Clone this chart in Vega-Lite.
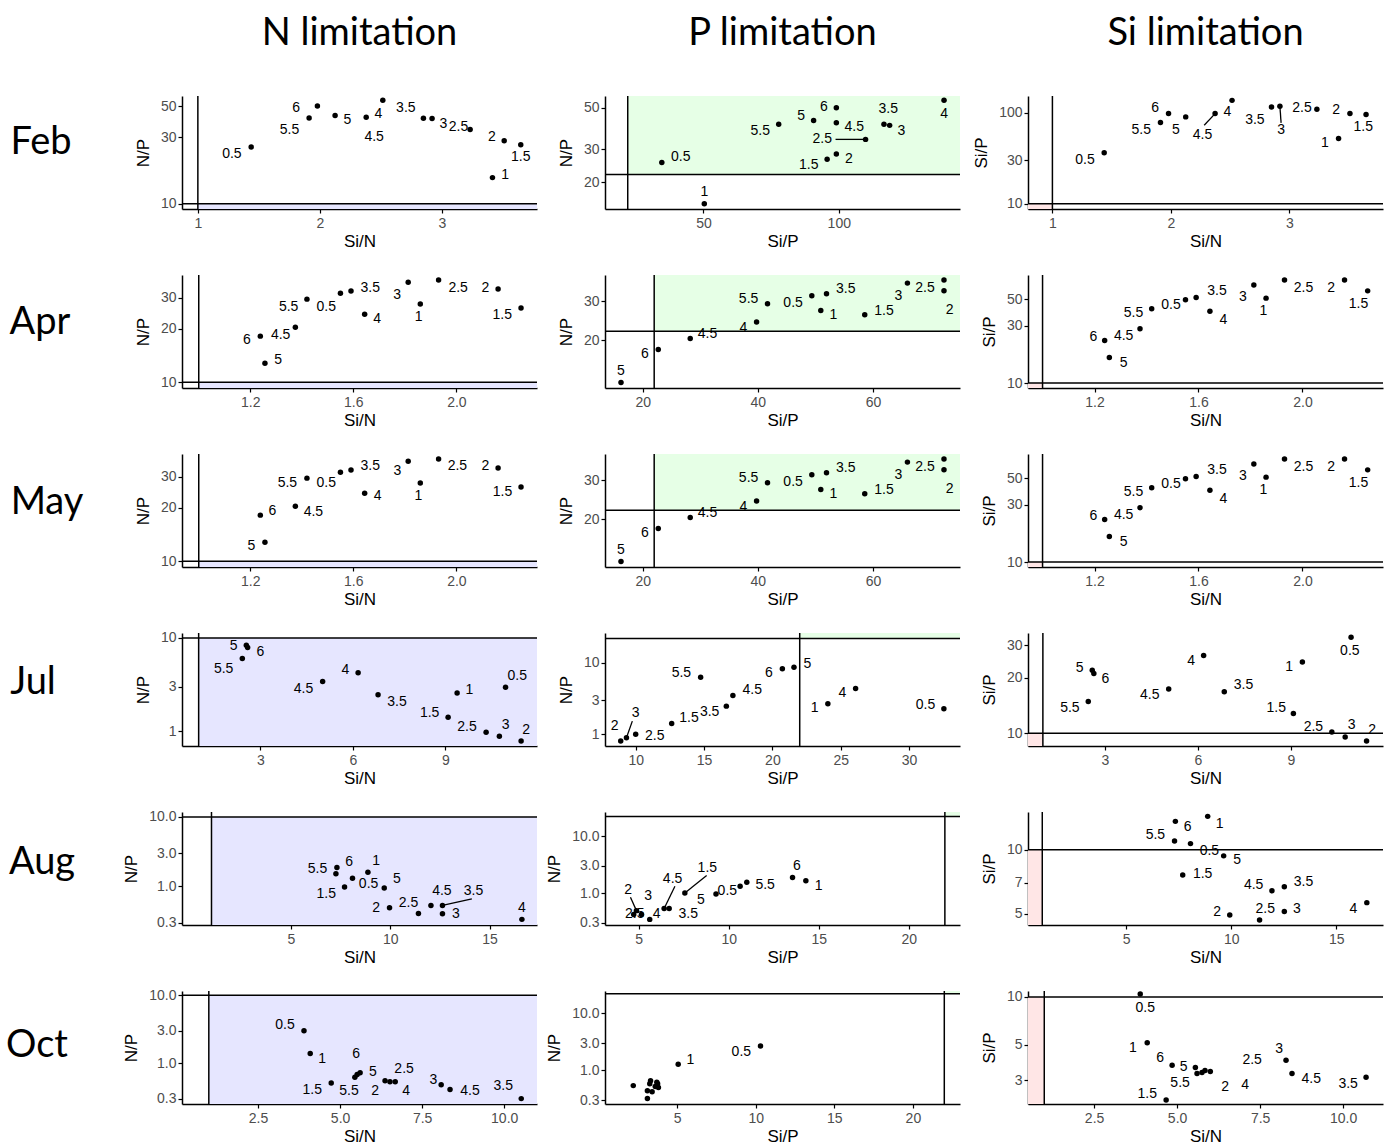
{
"$schema": "https://vega.github.io/schema/vega-lite/v6.json",
"background": "white",
"padding": {"left": 0, "top": 15, "right": 0, "bottom": 0},
"bounds": "flush",
"align": "none",
"columns": 4,
"spacing": {"row": 66, "column": 68},
"datasets": {
"feb1": [
{"t":"0.5","x":1.437,"y":25.5,"lx":1.279,"ly":22.6},
{"t":"6","x":1.98,"y":50.3,"lx":1.806,"ly":49.0},
{"t":"5.5","x":1.912,"y":41.3,"lx":1.751,"ly":33.7},
{"t":"5","x":2.125,"y":42.9,"lx":2.226,"ly":39.7},
{"t":"4.5","x":2.38,"y":41.7,"lx":2.445,"ly":30.3},
{"t":"4","x":2.516,"y":55.2,"lx":2.48,"ly":44.4},
{"t":"3.5","x":2.849,"y":41.0,"lx":2.705,"ly":48.7},
{"t":"3","x":2.92,"y":40.9,"lx":3.013,"ly":37.6},
{"t":"2.5","x":3.232,"y":34.1,"lx":3.136,"ly":35.6},
{"t":"2","x":3.511,"y":28.3,"lx":3.41,"ly":29.9},
{"t":"1.5","x":3.647,"y":26.5,"lx":3.647,"ly":21.5},
{"t":"1","x":3.415,"y":15.4,"lx":3.519,"ly":16.1}
],
"feb2": [
{"t":"0.5","x":34.6,"y":25.5,"lx":41.6,"ly":27.2},
{"t":"1","x":50.3,"y":15.3,"lx":50.3,"ly":17.8},
{"t":"5.5","x":77.8,"y":40.9,"lx":71.0,"ly":37.7},
{"t":"5","x":90.7,"y":42.8,"lx":86.1,"ly":45.2},
{"t":"6","x":99.1,"y":50.1,"lx":94.5,"ly":50.6},
{"t":"4.5","x":99.1,"y":41.6,"lx":105.7,"ly":39.3},
{"t":"2.5","x":109.9,"y":33.9,"lx":93.9,"ly":33.9,"sx":98.8,"sy":33.9},
{"t":"3.5","x":116.7,"y":40.9,"lx":118.3,"ly":49.6},
{"t":"3","x":118.8,"y":40.3,"lx":123.1,"ly":37.5},
{"t":"4","x":138.9,"y":54.9,"lx":138.9,"ly":46.6},
{"t":"2","x":99.1,"y":28.3,"lx":103.7,"ly":26.5},
{"t":"1.5","x":95.7,"y":26.5,"lx":88.9,"ly":24.7}
],
"feb3": [
{"t":"0.5","x":1.437,"y":36.5,"lx":1.275,"ly":30.0},
{"t":"6","x":1.98,"y":98.3,"lx":1.867,"ly":114.3},
{"t":"5.5","x":1.912,"y":78.3,"lx":1.75,"ly":64.5},
{"t":"5","x":2.125,"y":90.4,"lx":2.043,"ly":64.5},
{"t":"4.5","x":2.373,"y":98.3,"lx":2.267,"ly":56.9,"sx":2.281,"sy":73.2},
{"t":"4","x":2.516,"y":137.4,"lx":2.476,"ly":102.5},
{"t":"3.5","x":2.849,"y":116.3,"lx":2.709,"ly":83.0},
{"t":"3","x":2.92,"y":118.1,"lx":2.93,"ly":64.5,"sx":2.93,"sy":77.7},
{"t":"2.5","x":3.232,"y":109.5,"lx":3.106,"ly":114.3},
{"t":"2","x":3.511,"y":98.3,"lx":3.394,"ly":106.8},
{"t":"1.5","x":3.647,"y":95.8,"lx":3.623,"ly":69.1},
{"t":"1","x":3.415,"y":52.4,"lx":3.30,"ly":46.1}
],
"apr1": [
{"t":"6","x":1.239,"y":18.2,"lx":1.187,"ly":17.2},
{"t":"5","x":1.257,"y":12.8,"lx":1.308,"ly":13.4},
{"t":"4.5","x":1.375,"y":20.4,"lx":1.318,"ly":18.4},
{"t":"5.5","x":1.42,"y":29.4,"lx":1.349,"ly":26.4},
{"t":"0.5","x":1.55,"y":31.7,"lx":1.495,"ly":26.7},
{"t":"3.5","x":1.591,"y":32.7,"lx":1.666,"ly":33.8},
{"t":"4","x":1.644,"y":24.2,"lx":1.692,"ly":22.7},
{"t":"3","x":1.813,"y":36.6,"lx":1.77,"ly":31.0},
{"t":"1","x":1.86,"y":27.6,"lx":1.854,"ly":23.2},
{"t":"2.5","x":1.931,"y":37.7,"lx":2.007,"ly":34.1},
{"t":"2","x":2.162,"y":33.5,"lx":2.113,"ly":34.1},
{"t":"1.5","x":2.251,"y":26.2,"lx":2.178,"ly":23.8}
],
"may1": [
{"t":"6","x":1.239,"y":18.2,"lx":1.286,"ly":19.2},
{"t":"5","x":1.257,"y":12.8,"lx":1.204,"ly":12.25},
{"t":"4.5","x":1.375,"y":20.4,"lx":1.445,"ly":18.95},
{"t":"5.5","x":1.42,"y":29.4,"lx":1.344,"ly":27.5},
{"t":"0.5","x":1.55,"y":31.7,"lx":1.495,"ly":27.5},
{"t":"3.5","x":1.591,"y":32.7,"lx":1.666,"ly":34.6},
{"t":"4","x":1.644,"y":24.2,"lx":1.694,"ly":23.3},
{"t":"3","x":1.813,"y":36.6,"lx":1.771,"ly":32.1},
{"t":"1","x":1.86,"y":27.6,"lx":1.853,"ly":23.3},
{"t":"2.5","x":1.931,"y":37.7,"lx":2.004,"ly":34.6},
{"t":"2","x":2.162,"y":33.5,"lx":2.113,"ly":34.6},
{"t":"1.5","x":2.251,"y":26.2,"lx":2.179,"ly":24.5}
],
"apr2": [
{"t":"5","x":16.24,"y":12.9,"lx":16.24,"ly":14.6},
{"t":"6","x":22.71,"y":18.2,"lx":20.4,"ly":17.4},
{"t":"4.5","x":28.26,"y":20.4,"lx":31.27,"ly":21.3},
{"t":"4","x":39.78,"y":24.2,"lx":37.5,"ly":22.8},
{"t":"5.5","x":41.68,"y":29.3,"lx":38.39,"ly":30.7},
{"t":"0.5","x":49.37,"y":31.8,"lx":46.12,"ly":29.5},
{"t":"3.5","x":51.92,"y":32.5,"lx":55.26,"ly":34.3},
{"t":"1","x":50.93,"y":27.3,"lx":53.13,"ly":26.1},
{"t":"1.5","x":58.56,"y":26.1,"lx":61.91,"ly":27.3},
{"t":"3","x":65.97,"y":36.3,"lx":64.41,"ly":31.9},
{"t":"2.5","x":72.32,"y":37.5,"lx":69.02,"ly":34.4},
{"t":"2","x":72.32,"y":33.5,"lx":73.3,"ly":27.5}
],
"apr3": [
{"t":"6","x":1.239,"y":22.6,"lx":1.196,"ly":24.1},
{"t":"5","x":1.257,"y":16.3,"lx":1.312,"ly":14.8},
{"t":"4.5","x":1.375,"y":28.3,"lx":1.312,"ly":24.5},
{"t":"5.5","x":1.42,"y":41.6,"lx":1.35,"ly":38.3},
{"t":"0.5","x":1.55,"y":49.3,"lx":1.494,"ly":44.3},
{"t":"3.5","x":1.591,"y":51.5,"lx":1.671,"ly":57.8},
{"t":"4","x":1.644,"y":39.5,"lx":1.696,"ly":33.3},
{"t":"3","x":1.813,"y":65.6,"lx":1.771,"ly":51.9},
{"t":"1","x":1.86,"y":50.9,"lx":1.85,"ly":39.5},
{"t":"2.5","x":1.931,"y":72.1,"lx":2.004,"ly":61.6},
{"t":"2","x":2.162,"y":72.1,"lx":2.11,"ly":62.4},
{"t":"1.5","x":2.251,"y":58.5,"lx":2.216,"ly":45.5}
],
"jul1": [
{"t":"5","x":2.546,"y":8.37,"lx":2.134,"ly":8.23},
{"t":"6","x":2.588,"y":7.89,"lx":3.0,"ly":7.1},
{"t":"5.5","x":2.416,"y":6.03,"lx":1.81,"ly":4.61},
{"t":"4.5","x":5.02,"y":3.42,"lx":4.4,"ly":2.83},
{"t":"4","x":6.17,"y":4.25,"lx":5.757,"ly":4.55},
{"t":"3.5","x":6.817,"y":2.47,"lx":7.43,"ly":2.05},
{"t":"1.5","x":9.088,"y":1.42,"lx":8.49,"ly":1.57},
{"t":"1","x":9.38,"y":2.57,"lx":9.78,"ly":2.79},
{"t":"0.5","x":10.95,"y":2.97,"lx":11.33,"ly":3.93},
{"t":"2.5","x":10.32,"y":0.98,"lx":9.70,"ly":1.12},
{"t":"3","x":10.75,"y":0.89,"lx":10.95,"ly":1.16},
{"t":"2","x":11.455,"y":0.789,"lx":11.62,"ly":1.03}
],
"jul2": [
{"t":"2","x":8.90,"y":0.806,"lx":8.46,"ly":1.31},
{"t":"3","x":9.32,"y":0.896,"lx":9.996,"ly":1.97,"sx":9.75,"sy":1.53},
{"t":"2.5","x":9.996,"y":1.0,"lx":11.39,"ly":0.947},
{"t":"1.5","x":12.63,"y":1.42,"lx":13.9,"ly":1.71},
{"t":"5.5","x":14.75,"y":6.31,"lx":13.34,"ly":7.25},
{"t":"3.5","x":16.63,"y":2.48,"lx":15.41,"ly":2.05},
{"t":"4.5","x":17.11,"y":3.50,"lx":18.53,"ly":4.16},
{"t":"6","x":20.73,"y":8.25,"lx":19.75,"ly":7.11},
{"t":"5","x":21.58,"y":8.71,"lx":22.56,"ly":9.68},
{"t":"1","x":24.06,"y":2.68,"lx":23.1,"ly":2.35},
{"t":"4","x":26.09,"y":4.39,"lx":25.12,"ly":3.74},
{"t":"0.5","x":32.55,"y":2.28,"lx":31.21,"ly":2.57}
],
"jul3": [
{"t":"5","x":2.593,"y":22.0,"lx":2.184,"ly":22.6},
{"t":"6","x":2.644,"y":21.1,"lx":3.02,"ly":19.7},
{"t":"5.5","x":2.464,"y":14.9,"lx":1.872,"ly":13.75},
{"t":"4.5","x":5.058,"y":17.4,"lx":4.447,"ly":16.05},
{"t":"4","x":6.185,"y":26.4,"lx":5.78,"ly":24.8},
{"t":"3.5","x":6.851,"y":16.8,"lx":7.47,"ly":18.2},
{"t":"1","x":9.37,"y":24.4,"lx":8.94,"ly":22.9},
{"t":"0.5","x":10.94,"y":33.2,"lx":10.9,"ly":28.1},
{"t":"1.5","x":9.08,"y":12.8,"lx":8.525,"ly":13.75},
{"t":"2.5","x":10.32,"y":10.16,"lx":9.725,"ly":10.86},
{"t":"3","x":10.75,"y":9.55,"lx":10.96,"ly":11.05},
{"t":"2","x":11.44,"y":9.09,"lx":11.62,"ly":10.4}
],
"aug1": [
{"t":"6","x":7.316,"y":1.87,"lx":7.935,"ly":2.28},
{"t":"5.5","x":7.265,"y":1.52,"lx":6.34,"ly":1.77},
{"t":"1","x":8.876,"y":1.60,"lx":9.294,"ly":2.33},
{"t":"0.5","x":8.10,"y":1.31,"lx":8.91,"ly":1.08},
{"t":"1.5","x":7.70,"y":0.977,"lx":6.78,"ly":0.776},
{"t":"5","x":9.698,"y":0.946,"lx":10.34,"ly":1.29},
{"t":"2","x":9.965,"y":0.49,"lx":9.29,"ly":0.49},
{"t":"2.5","x":11.42,"y":0.407,"lx":10.92,"ly":0.577},
{"t":"4.5","x":12.05,"y":0.53,"lx":12.6,"ly":0.848},
{"t":"3.5","x":12.63,"y":0.53,"lx":14.19,"ly":0.848,"sx":14.11,"sy":0.659},
{"t":"3","x":12.63,"y":0.402,"lx":13.3,"ly":0.394},
{"t":"4","x":16.63,"y":0.334,"lx":16.63,"ly":0.49}
],
"aug2": [
{"t":"2.5","x":4.72,"y":0.42,"lx":4.78,"ly":0.42},
{"t":"3","x":5.15,"y":0.42,"lx":5.52,"ly":0.90},
{"t":"4","x":5.61,"y":0.344,"lx":5.99,"ly":0.42},
{"t":"4.5","x":6.41,"y":0.535,"lx":6.88,"ly":1.78,"sx":7.01,"sy":1.31},
{"t":"3.5","x":6.69,"y":0.535,"lx":7.75,"ly":0.42},
{"t":"1.5","x":7.56,"y":1.0,"lx":8.81,"ly":2.80,"sx":8.77,"sy":2.03},
{"t":"5","x":9.29,"y":0.96,"lx":8.45,"ly":0.767},
{"t":"0.5","x":10.63,"y":1.31,"lx":9.92,"ly":1.07},
{"t":"5.5","x":11.0,"y":1.55,"lx":12.02,"ly":1.36},
{"t":"6","x":13.54,"y":1.88,"lx":13.78,"ly":3.04},
{"t":"1","x":14.28,"y":1.64,"lx":14.99,"ly":1.31},
{"t":"2","x":4.87,"y":0.49,"lx":4.41,"ly":1.15,"sx":4.54,"sy":0.84}
],
"aug3": [
{"t":"6","x":7.34,"y":13.56,"lx":7.93,"ly":12.76},
{"t":"1","x":8.88,"y":14.31,"lx":9.45,"ly":13.22},
{"t":"5.5","x":7.30,"y":10.98,"lx":6.39,"ly":11.67},
{"t":"0.5","x":8.06,"y":10.67,"lx":8.96,"ly":9.83},
{"t":"5","x":9.64,"y":9.35,"lx":10.28,"ly":8.93},
{"t":"1.5","x":7.69,"y":7.60,"lx":8.64,"ly":7.73},
{"t":"4.5","x":11.94,"y":6.42,"lx":11.07,"ly":6.83},
{"t":"3.5","x":12.53,"y":6.70,"lx":13.44,"ly":7.02},
{"t":"2","x":9.93,"y":4.95,"lx":9.33,"ly":5.13},
{"t":"2.5","x":11.35,"y":4.69,"lx":11.62,"ly":5.27},
{"t":"3","x":12.53,"y":5.13,"lx":13.13,"ly":5.27},
{"t":"4","x":16.46,"y":5.65,"lx":15.82,"ly":5.27}
],
"oct1": [
{"t":"0.5","x":3.90,"y":3.0,"lx":3.32,"ly":3.58},
{"t":"1","x":4.09,"y":1.38,"lx":4.45,"ly":1.15},
{"t":"1.5","x":4.73,"y":0.51,"lx":4.15,"ly":0.40},
{"t":"6","x":5.52,"y":0.68,"lx":5.49,"ly":1.37},
{"t":"5.5","x":5.45,"y":0.62,"lx":5.27,"ly":0.385},
{"t":"5","x":5.61,"y":0.72,"lx":6.0,"ly":0.75},
{"t":"2.5","x":6.37,"y":0.55,"lx":6.95,"ly":0.81},
{"t":"2","x":6.52,"y":0.53,"lx":6.07,"ly":0.385},
{"t":"4","x":6.68,"y":0.53,"lx":7.01,"ly":0.385},
{"t":"3","x":8.08,"y":0.48,"lx":7.84,"ly":0.567},
{"t":"4.5","x":8.35,"y":0.41,"lx":8.96,"ly":0.385},
{"t":"3.5","x":10.52,"y":0.30,"lx":9.97,"ly":0.459}
],
"oct2": [
{"t":"0.5","x":10.3,"y":2.68,"lx":9.08,"ly":2.1},
{"t":"1","x":5.06,"y":1.28,"lx":5.83,"ly":1.51},
{"t":"1.5","x":2.2,"y":0.54},
{"t":"2","x":3.1,"y":0.32},
{"t":"2.5","x":3.1,"y":0.44},
{"t":"3","x":3.3,"y":0.66},
{"t":"3.5","x":3.6,"y":0.52},
{"t":"4","x":3.75,"y":0.58},
{"t":"4.5","x":3.25,"y":0.58},
{"t":"5","x":3.8,"y":0.5},
{"t":"5.5","x":3.4,"y":0.42},
{"t":"6","x":3.7,"y":0.62}
],
"oct3": [
{"t":"0.5","x":3.89,"y":10.45,"lx":4.04,"ly":8.5},
{"t":"1","x":4.10,"y":5.15,"lx":3.67,"ly":4.78},
{"t":"1.5","x":4.67,"y":2.25,"lx":4.10,"ly":2.46},
{"t":"6","x":4.85,"y":3.72,"lx":4.49,"ly":4.12},
{"t":"5","x":5.55,"y":3.6,"lx":5.2,"ly":3.6},
{"t":"5.5","x":5.6,"y":3.3,"lx":5.09,"ly":2.89},
{"t":"2.5","x":5.84,"y":3.45,"lx":7.26,"ly":4.0},
{"t":"2","x":5.75,"y":3.35,"lx":6.45,"ly":2.73},
{"t":"4","x":6.0,"y":3.4,"lx":7.05,"ly":2.81},
{"t":"3","x":8.28,"y":4.0,"lx":8.07,"ly":4.71},
{"t":"4.5","x":8.46,"y":3.30,"lx":9.04,"ly":3.03},
{"t":"3.5","x":10.69,"y":3.12,"lx":10.15,"ly":2.85}
]
},
"concat": [
 {"width":114,"height":113,"data":{"values":[{"m":"Feb"}]},"mark":{"type":"text","font":"Lato","fontSize":38,"color":"#000","dx":-16,"dy":-10},"encoding":{"text":{"field":"m","type":"nominal"}}},
 {"width":355,"height":113,"title":{"text":"N limitation","frame":"group","offset":12,"baseline":"alphabetic"},"layer":[
  {"data":{"values":[{}]},"mark":{"type":"rect","color":"#E6E6FF","clip":true},"encoding":{"x":{"datum":1,"type":"quantitative"},"x2":{"datum":10000},"y":{"datum":0.001,"type":"quantitative"},"y2":{"datum":10}}},
  {"data":{"values":[{}]},"mark":{"type":"rule","color":"#000","strokeWidth":1.5},"encoding":{"x":{"datum":1,"type":"quantitative"}}},
  {"data":{"values":[{}]},"mark":{"type":"rule","color":"#000","strokeWidth":1.5},"encoding":{"y":{"datum":10,"type":"quantitative"}}},
  {"data":{"name":"feb1"},"mark":{"type":"circle","size":30,"color":"#000","opacity":1},"encoding":{"x":{"field":"x","type":"quantitative","scale":{"domain":[0.87,3.78],"nice":false,"zero":false},"axis":{"title":"Si/N","values":[1,2,3],"format":"d"}},"y":{"field":"y","type":"quantitative","scale":{"type":"log","domain":[9.17,59.3],"nice":false},"axis":{"title":"N/P","values":[10,30,50],"format":"d"}}}},
  {"data":{"name":"feb1"},"transform":[{"filter":"isValid(datum.lx)"}],"mark":{"type":"text","fontSize":14,"color":"#000"},"encoding":{"x":{"field":"lx","type":"quantitative"},"y":{"field":"ly","type":"quantitative"},"text":{"field":"t","type":"nominal"}}}
 ]},
 {"width":355,"height":113,"title":{"text":"P limitation","frame":"group","offset":12,"baseline":"alphabetic"},"layer":[
  {"data":{"values":[{}]},"mark":{"type":"rect","color":"#E6FFE6","clip":true},"encoding":{"x":{"datum":22,"type":"quantitative"},"x2":{"datum":10000},"y":{"datum":22,"type":"quantitative"},"y2":{"datum":10000}}},
  {"data":{"values":[{}]},"mark":{"type":"rule","color":"#000","strokeWidth":1.5},"encoding":{"x":{"datum":22,"type":"quantitative"}}},
  {"data":{"values":[{}]},"mark":{"type":"rule","color":"#000","strokeWidth":1.5},"encoding":{"y":{"datum":22,"type":"quantitative"}}},
  {"data":{"name":"feb2"},"transform":[{"filter":"isValid(datum.sx)"}],"mark":{"type":"rule","color":"#000","strokeWidth":1.3},"encoding":{"x":{"field":"x","type":"quantitative"},"y":{"field":"y","type":"quantitative"},"x2":{"field":"sx"},"y2":{"field":"sy"}}},
  {"data":{"name":"feb2"},"mark":{"type":"circle","size":30,"color":"#000","opacity":1},"encoding":{"x":{"field":"x","type":"quantitative","scale":{"domain":[13.6,144.8],"nice":false,"zero":false},"axis":{"title":"Si/P","values":[50,100],"format":"d"}},"y":{"field":"y","type":"quantitative","scale":{"type":"log","domain":[14.36,57.9],"nice":false},"axis":{"title":"N/P","values":[20,30,50],"format":"d"}}}},
  {"data":{"name":"feb2"},"transform":[{"filter":"isValid(datum.lx)"}],"mark":{"type":"text","fontSize":14,"color":"#000"},"encoding":{"x":{"field":"lx","type":"quantitative"},"y":{"field":"ly","type":"quantitative"},"text":{"field":"t","type":"nominal"}}}
 ]},
 {"width":355,"height":113,"title":{"text":"Si limitation","frame":"group","offset":12,"baseline":"alphabetic"},"layer":[
  {"data":{"values":[{}]},"mark":{"type":"rect","color":"#FFE6E6","clip":true},"encoding":{"x":{"datum":-1000,"type":"quantitative"},"x2":{"datum":1},"y":{"datum":0.001,"type":"quantitative"},"y2":{"datum":10}}},
  {"data":{"values":[{}]},"mark":{"type":"rule","color":"#000","strokeWidth":1.5},"encoding":{"x":{"datum":1,"type":"quantitative"}}},
  {"data":{"values":[{}]},"mark":{"type":"rule","color":"#000","strokeWidth":1.5},"encoding":{"y":{"datum":10,"type":"quantitative"}}},
  {"data":{"name":"feb3"},"transform":[{"filter":"isValid(datum.sx)"}],"mark":{"type":"rule","color":"#000","strokeWidth":1.3},"encoding":{"x":{"field":"x","type":"quantitative"},"y":{"field":"y","type":"quantitative"},"x2":{"field":"sx"},"y2":{"field":"sy"}}},
  {"data":{"name":"feb3"},"mark":{"type":"circle","size":30,"color":"#000","opacity":1},"encoding":{"x":{"field":"x","type":"quantitative","scale":{"domain":[0.794,3.79],"nice":false,"zero":false},"axis":{"title":"Si/N","values":[1,2,3],"format":"d"}},"y":{"field":"y","type":"quantitative","scale":{"type":"log","domain":[8.75,153.5],"nice":false},"axis":{"title":"Si/P","values":[10,30,100],"format":"d"}}}},
  {"data":{"name":"feb3"},"transform":[{"filter":"isValid(datum.lx)"}],"mark":{"type":"text","fontSize":14,"color":"#000"},"encoding":{"x":{"field":"lx","type":"quantitative"},"y":{"field":"ly","type":"quantitative"},"text":{"field":"t","type":"nominal"}}}
 ]},
 {"width":114,"height":113,"data":{"values":[{"m":"Apr"}]},"mark":{"type":"text","font":"Lato","fontSize":38,"color":"#000","dx":-17,"dy":-9},"encoding":{"text":{"field":"m","type":"nominal"}}},
 {"width":355,"height":113,"layer":[
  {"data":{"values":[{}]},"mark":{"type":"rect","color":"#E6E6FF","clip":true},"encoding":{"x":{"datum":1,"type":"quantitative"},"x2":{"datum":10000},"y":{"datum":0.001,"type":"quantitative"},"y2":{"datum":10}}},
  {"data":{"values":[{}]},"mark":{"type":"rule","color":"#000","strokeWidth":1.5},"encoding":{"x":{"datum":1,"type":"quantitative"}}},
  {"data":{"values":[{}]},"mark":{"type":"rule","color":"#000","strokeWidth":1.5},"encoding":{"y":{"datum":10,"type":"quantitative"}}},
  {"data":{"name":"apr1"},"mark":{"type":"circle","size":30,"color":"#000","opacity":1},"encoding":{"x":{"field":"x","type":"quantitative","scale":{"domain":[0.935,2.313],"nice":false,"zero":false},"axis":{"title":"Si/N","values":[1.2,1.6,2.0],"format":".1f"}},"y":{"field":"y","type":"quantitative","scale":{"type":"log","domain":[9.29,40.2],"nice":false},"axis":{"title":"N/P","values":[10,20,30],"format":"d"}}}},
  {"data":{"name":"apr1"},"transform":[{"filter":"isValid(datum.lx)"}],"mark":{"type":"text","fontSize":14,"color":"#000"},"encoding":{"x":{"field":"lx","type":"quantitative"},"y":{"field":"ly","type":"quantitative"},"text":{"field":"t","type":"nominal"}}}
 ]},
 {"width":355,"height":113,"layer":[
  {"data":{"values":[{}]},"mark":{"type":"rect","color":"#E6FFE6","clip":true},"encoding":{"x":{"datum":22,"type":"quantitative"},"x2":{"datum":10000},"y":{"datum":22,"type":"quantitative"},"y2":{"datum":10000}}},
  {"data":{"values":[{}]},"mark":{"type":"rule","color":"#000","strokeWidth":1.5},"encoding":{"x":{"datum":22,"type":"quantitative"}}},
  {"data":{"values":[{}]},"mark":{"type":"rule","color":"#000","strokeWidth":1.5},"encoding":{"y":{"datum":22,"type":"quantitative"}}},
  {"data":{"name":"apr2"},"mark":{"type":"circle","size":30,"color":"#000","opacity":1},"encoding":{"x":{"field":"x","type":"quantitative","scale":{"domain":[13.46,75.1],"nice":false,"zero":false},"axis":{"title":"Si/P","values":[20,40,60],"format":"d"}},"y":{"field":"y","type":"quantitative","scale":{"type":"log","domain":[12.19,39.5],"nice":false},"axis":{"title":"N/P","values":[20,30],"format":"d"}}}},
  {"data":{"name":"apr2"},"transform":[{"filter":"isValid(datum.lx)"}],"mark":{"type":"text","fontSize":14,"color":"#000"},"encoding":{"x":{"field":"lx","type":"quantitative"},"y":{"field":"ly","type":"quantitative"},"text":{"field":"t","type":"nominal"}}}
 ]},
 {"width":355,"height":113,"layer":[
  {"data":{"values":[{}]},"mark":{"type":"rect","color":"#FFE6E6","clip":true},"encoding":{"x":{"datum":-1000,"type":"quantitative"},"x2":{"datum":1},"y":{"datum":0.001,"type":"quantitative"},"y2":{"datum":10}}},
  {"data":{"values":[{}]},"mark":{"type":"rule","color":"#000","strokeWidth":1.5},"encoding":{"x":{"datum":1,"type":"quantitative"}}},
  {"data":{"values":[{}]},"mark":{"type":"rule","color":"#000","strokeWidth":1.5},"encoding":{"y":{"datum":10,"type":"quantitative"}}},
  {"data":{"name":"apr3"},"mark":{"type":"circle","size":30,"color":"#000","opacity":1},"encoding":{"x":{"field":"x","type":"quantitative","scale":{"domain":[0.944,2.31],"nice":false,"zero":false},"axis":{"title":"Si/N","values":[1.2,1.6,2.0],"format":".1f"}},"y":{"field":"y","type":"quantitative","scale":{"type":"log","domain":[9.09,79.3],"nice":false},"axis":{"title":"Si/P","values":[10,30,50],"format":"d"}}}},
  {"data":{"name":"apr3"},"transform":[{"filter":"isValid(datum.lx)"}],"mark":{"type":"text","fontSize":14,"color":"#000"},"encoding":{"x":{"field":"lx","type":"quantitative"},"y":{"field":"ly","type":"quantitative"},"text":{"field":"t","type":"nominal"}}}
 ]},
 {"width":114,"height":113,"data":{"values":[{"m":"May"}]},"mark":{"type":"text","font":"Lato","fontSize":38,"color":"#000","dx":-10,"dy":-8},"encoding":{"text":{"field":"m","type":"nominal"}}},
 {"width":355,"height":113,"layer":[
  {"data":{"values":[{}]},"mark":{"type":"rect","color":"#E6E6FF","clip":true},"encoding":{"x":{"datum":1,"type":"quantitative"},"x2":{"datum":10000},"y":{"datum":0.001,"type":"quantitative"},"y2":{"datum":10}}},
  {"data":{"values":[{}]},"mark":{"type":"rule","color":"#000","strokeWidth":1.5},"encoding":{"x":{"datum":1,"type":"quantitative"}}},
  {"data":{"values":[{}]},"mark":{"type":"rule","color":"#000","strokeWidth":1.5},"encoding":{"y":{"datum":10,"type":"quantitative"}}},
  {"data":{"name":"may1"},"mark":{"type":"circle","size":30,"color":"#000","opacity":1},"encoding":{"x":{"field":"x","type":"quantitative","scale":{"domain":[0.935,2.313],"nice":false,"zero":false},"axis":{"title":"Si/N","values":[1.2,1.6,2.0],"format":".1f"}},"y":{"field":"y","type":"quantitative","scale":{"type":"log","domain":[9.29,40.2],"nice":false},"axis":{"title":"N/P","values":[10,20,30],"format":"d"}}}},
  {"data":{"name":"may1"},"transform":[{"filter":"isValid(datum.lx)"}],"mark":{"type":"text","fontSize":14,"color":"#000"},"encoding":{"x":{"field":"lx","type":"quantitative"},"y":{"field":"ly","type":"quantitative"},"text":{"field":"t","type":"nominal"}}}
 ]},
 {"width":355,"height":113,"layer":[
  {"data":{"values":[{}]},"mark":{"type":"rect","color":"#E6FFE6","clip":true},"encoding":{"x":{"datum":22,"type":"quantitative"},"x2":{"datum":10000},"y":{"datum":22,"type":"quantitative"},"y2":{"datum":10000}}},
  {"data":{"values":[{}]},"mark":{"type":"rule","color":"#000","strokeWidth":1.5},"encoding":{"x":{"datum":22,"type":"quantitative"}}},
  {"data":{"values":[{}]},"mark":{"type":"rule","color":"#000","strokeWidth":1.5},"encoding":{"y":{"datum":22,"type":"quantitative"}}},
  {"data":{"name":"apr2"},"mark":{"type":"circle","size":30,"color":"#000","opacity":1},"encoding":{"x":{"field":"x","type":"quantitative","scale":{"domain":[13.46,75.1],"nice":false,"zero":false},"axis":{"title":"Si/P","values":[20,40,60],"format":"d"}},"y":{"field":"y","type":"quantitative","scale":{"type":"log","domain":[12.19,39.5],"nice":false},"axis":{"title":"N/P","values":[20,30],"format":"d"}}}},
  {"data":{"name":"apr2"},"transform":[{"filter":"isValid(datum.lx)"}],"mark":{"type":"text","fontSize":14,"color":"#000"},"encoding":{"x":{"field":"lx","type":"quantitative"},"y":{"field":"ly","type":"quantitative"},"text":{"field":"t","type":"nominal"}}}
 ]},
 {"width":355,"height":113,"layer":[
  {"data":{"values":[{}]},"mark":{"type":"rect","color":"#FFE6E6","clip":true},"encoding":{"x":{"datum":-1000,"type":"quantitative"},"x2":{"datum":1},"y":{"datum":0.001,"type":"quantitative"},"y2":{"datum":10}}},
  {"data":{"values":[{}]},"mark":{"type":"rule","color":"#000","strokeWidth":1.5},"encoding":{"x":{"datum":1,"type":"quantitative"}}},
  {"data":{"values":[{}]},"mark":{"type":"rule","color":"#000","strokeWidth":1.5},"encoding":{"y":{"datum":10,"type":"quantitative"}}},
  {"data":{"name":"apr3"},"mark":{"type":"circle","size":30,"color":"#000","opacity":1},"encoding":{"x":{"field":"x","type":"quantitative","scale":{"domain":[0.944,2.31],"nice":false,"zero":false},"axis":{"title":"Si/N","values":[1.2,1.6,2.0],"format":".1f"}},"y":{"field":"y","type":"quantitative","scale":{"type":"log","domain":[9.09,79.3],"nice":false},"axis":{"title":"Si/P","values":[10,30,50],"format":"d"}}}},
  {"data":{"name":"apr3"},"transform":[{"filter":"isValid(datum.lx)"}],"mark":{"type":"text","fontSize":14,"color":"#000"},"encoding":{"x":{"field":"lx","type":"quantitative"},"y":{"field":"ly","type":"quantitative"},"text":{"field":"t","type":"nominal"}}}
 ]},
 {"width":114,"height":113,"data":{"values":[{"m":"Jul"}]},"mark":{"type":"text","font":"Lato","fontSize":38,"color":"#000","dx":-24,"dy":-7},"encoding":{"text":{"field":"m","type":"nominal"}}},
 {"width":355,"height":113,"layer":[
  {"data":{"values":[{}]},"mark":{"type":"rect","color":"#E6E6FF","clip":true},"encoding":{"x":{"datum":1,"type":"quantitative"},"x2":{"datum":10000},"y":{"datum":0.001,"type":"quantitative"},"y2":{"datum":10}}},
  {"data":{"values":[{}]},"mark":{"type":"rule","color":"#000","strokeWidth":1.5},"encoding":{"x":{"datum":1,"type":"quantitative"}}},
  {"data":{"values":[{}]},"mark":{"type":"rule","color":"#000","strokeWidth":1.5},"encoding":{"y":{"datum":10,"type":"quantitative"}}},
  {"data":{"name":"jul1"},"mark":{"type":"circle","size":30,"color":"#000","opacity":1},"encoding":{"x":{"field":"x","type":"quantitative","scale":{"domain":[0.46,11.97],"nice":false,"zero":false},"axis":{"title":"Si/N","values":[3,6,9],"format":"d"}},"y":{"field":"y","type":"quantitative","scale":{"type":"log","domain":[0.698,11.3],"nice":false},"axis":{"title":"N/P","values":[1,3,10],"format":"d"}}}},
  {"data":{"name":"jul1"},"transform":[{"filter":"isValid(datum.lx)"}],"mark":{"type":"text","fontSize":14,"color":"#000"},"encoding":{"x":{"field":"lx","type":"quantitative"},"y":{"field":"ly","type":"quantitative"},"text":{"field":"t","type":"nominal"}}}
 ]},
 {"width":355,"height":113,"layer":[
  {"data":{"values":[{}]},"mark":{"type":"rect","color":"#E6FFE6","clip":true},"encoding":{"x":{"datum":22,"type":"quantitative"},"x2":{"datum":10000},"y":{"datum":22,"type":"quantitative"},"y2":{"datum":10000}}},
  {"data":{"values":[{}]},"mark":{"type":"rule","color":"#000","strokeWidth":1.5},"encoding":{"x":{"datum":22,"type":"quantitative"}}},
  {"data":{"values":[{}]},"mark":{"type":"rule","color":"#000","strokeWidth":1.5},"encoding":{"y":{"datum":22,"type":"quantitative"}}},
  {"data":{"name":"jul2"},"transform":[{"filter":"isValid(datum.sx)"}],"mark":{"type":"rule","color":"#000","strokeWidth":1.3},"encoding":{"x":{"field":"x","type":"quantitative"},"y":{"field":"y","type":"quantitative"},"x2":{"field":"sx"},"y2":{"field":"sy"}}},
  {"data":{"name":"jul2"},"mark":{"type":"circle","size":30,"color":"#000","opacity":1},"encoding":{"x":{"field":"x","type":"quantitative","scale":{"domain":[7.75,33.73],"nice":false,"zero":false},"axis":{"title":"Si/P","values":[10,15,20,25,30],"format":"d"}},"y":{"field":"y","type":"quantitative","scale":{"type":"log","domain":[0.686,26.2],"nice":false},"axis":{"title":"N/P","values":[1,3,10],"format":"d"}}}},
  {"data":{"name":"jul2"},"transform":[{"filter":"isValid(datum.lx)"}],"mark":{"type":"text","fontSize":14,"color":"#000"},"encoding":{"x":{"field":"lx","type":"quantitative"},"y":{"field":"ly","type":"quantitative"},"text":{"field":"t","type":"nominal"}}}
 ]},
 {"width":355,"height":113,"layer":[
  {"data":{"values":[{}]},"mark":{"type":"rect","color":"#FFE6E6","clip":true},"encoding":{"x":{"datum":-1000,"type":"quantitative"},"x2":{"datum":1},"y":{"datum":0.001,"type":"quantitative"},"y2":{"datum":10}}},
  {"data":{"values":[{}]},"mark":{"type":"rule","color":"#000","strokeWidth":1.5},"encoding":{"x":{"datum":1,"type":"quantitative"}}},
  {"data":{"values":[{}]},"mark":{"type":"rule","color":"#000","strokeWidth":1.5},"encoding":{"y":{"datum":10,"type":"quantitative"}}},
  {"data":{"name":"jul3"},"mark":{"type":"circle","size":30,"color":"#000","opacity":1},"encoding":{"x":{"field":"x","type":"quantitative","scale":{"domain":[0.52,11.97],"nice":false,"zero":false},"axis":{"title":"Si/N","values":[3,6,9],"format":"d"}},"y":{"field":"y","type":"quantitative","scale":{"type":"log","domain":[8.54,35.0],"nice":false},"axis":{"title":"Si/P","values":[10,20,30],"format":"d"}}}},
  {"data":{"name":"jul3"},"transform":[{"filter":"isValid(datum.lx)"}],"mark":{"type":"text","fontSize":14,"color":"#000"},"encoding":{"x":{"field":"lx","type":"quantitative"},"y":{"field":"ly","type":"quantitative"},"text":{"field":"t","type":"nominal"}}}
 ]},
 {"width":114,"height":113,"data":{"values":[{"m":"Aug"}]},"mark":{"type":"text","font":"Lato","fontSize":38,"color":"#000","dx":-15,"dy":-6},"encoding":{"text":{"field":"m","type":"nominal"}}},
 {"width":355,"height":113,"layer":[
  {"data":{"values":[{}]},"mark":{"type":"rect","color":"#E6E6FF","clip":true},"encoding":{"x":{"datum":1,"type":"quantitative"},"x2":{"datum":10000},"y":{"datum":0.001,"type":"quantitative"},"y2":{"datum":10}}},
  {"data":{"values":[{}]},"mark":{"type":"rule","color":"#000","strokeWidth":1.5},"encoding":{"x":{"datum":1,"type":"quantitative"}}},
  {"data":{"values":[{}]},"mark":{"type":"rule","color":"#000","strokeWidth":1.5},"encoding":{"y":{"datum":10,"type":"quantitative"}}},
  {"data":{"name":"aug1"},"transform":[{"filter":"isValid(datum.sx)"}],"mark":{"type":"rule","color":"#000","strokeWidth":1.3},"encoding":{"x":{"field":"x","type":"quantitative"},"y":{"field":"y","type":"quantitative"},"x2":{"field":"sx"},"y2":{"field":"sy"}}},
  {"data":{"name":"aug1"},"mark":{"type":"circle","size":30,"color":"#000","opacity":1},"encoding":{"x":{"field":"x","type":"quantitative","scale":{"domain":[-0.485,17.39],"nice":false,"zero":false},"axis":{"title":"Si/N","values":[5,10,15],"format":"d"}},"y":{"field":"y","type":"quantitative","scale":{"type":"log","domain":[0.277,11.8],"nice":false},"axis":{"title":"N/P","values":[0.3,1,3,10],"format":".1f"}}}},
  {"data":{"name":"aug1"},"transform":[{"filter":"isValid(datum.lx)"}],"mark":{"type":"text","fontSize":14,"color":"#000"},"encoding":{"x":{"field":"lx","type":"quantitative"},"y":{"field":"ly","type":"quantitative"},"text":{"field":"t","type":"nominal"}}}
 ]},
 {"width":355,"height":113,"layer":[
  {"data":{"values":[{}]},"mark":{"type":"rect","color":"#E6FFE6","clip":true},"encoding":{"x":{"datum":22,"type":"quantitative"},"x2":{"datum":10000},"y":{"datum":22,"type":"quantitative"},"y2":{"datum":10000}}},
  {"data":{"values":[{}]},"mark":{"type":"rule","color":"#000","strokeWidth":1.5},"encoding":{"x":{"datum":22,"type":"quantitative"}}},
  {"data":{"values":[{}]},"mark":{"type":"rule","color":"#000","strokeWidth":1.5},"encoding":{"y":{"datum":22,"type":"quantitative"}}},
  {"data":{"name":"aug2"},"transform":[{"filter":"isValid(datum.sx)"}],"mark":{"type":"rule","color":"#000","strokeWidth":1.3},"encoding":{"x":{"field":"x","type":"quantitative"},"y":{"field":"y","type":"quantitative"},"x2":{"field":"sx"},"y2":{"field":"sy"}}},
  {"data":{"name":"aug2"},"mark":{"type":"circle","size":30,"color":"#000","opacity":1},"encoding":{"x":{"field":"x","type":"quantitative","scale":{"domain":[3.126,22.84],"nice":false,"zero":false},"axis":{"title":"Si/P","values":[5,10,15,20],"format":"d"}},"y":{"field":"y","type":"quantitative","scale":{"type":"log","domain":[0.274,26.5],"nice":false},"axis":{"title":"N/P","values":[0.3,1,3,10],"format":".1f"}}}},
  {"data":{"name":"aug2"},"transform":[{"filter":"isValid(datum.lx)"}],"mark":{"type":"text","fontSize":14,"color":"#000"},"encoding":{"x":{"field":"lx","type":"quantitative"},"y":{"field":"ly","type":"quantitative"},"text":{"field":"t","type":"nominal"}}}
 ]},
 {"width":355,"height":113,"layer":[
  {"data":{"values":[{}]},"mark":{"type":"rect","color":"#FFE6E6","clip":true},"encoding":{"x":{"datum":-1000,"type":"quantitative"},"x2":{"datum":1},"y":{"datum":0.001,"type":"quantitative"},"y2":{"datum":10}}},
  {"data":{"values":[{}]},"mark":{"type":"rule","color":"#000","strokeWidth":1.5},"encoding":{"x":{"datum":1,"type":"quantitative"}}},
  {"data":{"values":[{}]},"mark":{"type":"rule","color":"#000","strokeWidth":1.5},"encoding":{"y":{"datum":10,"type":"quantitative"}}},
  {"data":{"name":"aug3"},"mark":{"type":"circle","size":30,"color":"#000","opacity":1},"encoding":{"x":{"field":"x","type":"quantitative","scale":{"domain":[0.32,17.23],"nice":false,"zero":false},"axis":{"title":"Si/N","values":[5,10,15],"format":"d"}},"y":{"field":"y","type":"quantitative","scale":{"type":"log","domain":[4.44,15.0],"nice":false},"axis":{"title":"Si/P","values":[5,7,10],"format":"d"}}}},
  {"data":{"name":"aug3"},"transform":[{"filter":"isValid(datum.lx)"}],"mark":{"type":"text","fontSize":14,"color":"#000"},"encoding":{"x":{"field":"lx","type":"quantitative"},"y":{"field":"ly","type":"quantitative"},"text":{"field":"t","type":"nominal"}}}
 ]},
 {"width":114,"height":113,"data":{"values":[{"m":"Oct"}]},"mark":{"type":"text","font":"Lato","fontSize":38,"color":"#000","dx":-20,"dy":-2},"encoding":{"text":{"field":"m","type":"nominal"}}},
 {"width":355,"height":113,"layer":[
  {"data":{"values":[{}]},"mark":{"type":"rect","color":"#E6E6FF","clip":true},"encoding":{"x":{"datum":1,"type":"quantitative"},"x2":{"datum":10000},"y":{"datum":0.001,"type":"quantitative"},"y2":{"datum":10}}},
  {"data":{"values":[{}]},"mark":{"type":"rule","color":"#000","strokeWidth":1.5},"encoding":{"x":{"datum":1,"type":"quantitative"}}},
  {"data":{"values":[{}]},"mark":{"type":"rule","color":"#000","strokeWidth":1.5},"encoding":{"y":{"datum":10,"type":"quantitative"}}},
  {"data":{"name":"oct1"},"mark":{"type":"circle","size":30,"color":"#000","opacity":1},"encoding":{"x":{"field":"x","type":"quantitative","scale":{"domain":[0.183,11.0],"nice":false,"zero":false},"axis":{"title":"Si/N","values":[2.5,5,7.5,10],"format":".1f"}},"y":{"field":"y","type":"quantitative","scale":{"type":"log","domain":[0.25,11.5],"nice":false},"axis":{"title":"N/P","values":[0.3,1,3,10],"format":".1f"}}}},
  {"data":{"name":"oct1"},"transform":[{"filter":"isValid(datum.lx)"}],"mark":{"type":"text","fontSize":14,"color":"#000"},"encoding":{"x":{"field":"lx","type":"quantitative"},"y":{"field":"ly","type":"quantitative"},"text":{"field":"t","type":"nominal"}}}
 ]},
 {"width":355,"height":113,"layer":[
  {"data":{"values":[{}]},"mark":{"type":"rect","color":"#E6FFE6","clip":true},"encoding":{"x":{"datum":22,"type":"quantitative"},"x2":{"datum":10000},"y":{"datum":22,"type":"quantitative"},"y2":{"datum":10000}}},
  {"data":{"values":[{}]},"mark":{"type":"rule","color":"#000","strokeWidth":1.5},"encoding":{"x":{"datum":22,"type":"quantitative"}}},
  {"data":{"values":[{}]},"mark":{"type":"rule","color":"#000","strokeWidth":1.5},"encoding":{"y":{"datum":22,"type":"quantitative"}}},
  {"data":{"name":"oct2"},"mark":{"type":"circle","size":30,"color":"#000","opacity":1},"encoding":{"x":{"field":"x","type":"quantitative","scale":{"domain":[0.40,23.0],"nice":false,"zero":false},"axis":{"title":"Si/P","values":[5,10,15,20],"format":"d"}},"y":{"field":"y","type":"quantitative","scale":{"type":"log","domain":[0.257,24.7],"nice":false},"axis":{"title":"N/P","values":[0.3,1,3,10],"format":".1f"}}}},
  {"data":{"name":"oct2"},"transform":[{"filter":"isValid(datum.lx)"}],"mark":{"type":"text","fontSize":14,"color":"#000"},"encoding":{"x":{"field":"lx","type":"quantitative"},"y":{"field":"ly","type":"quantitative"},"text":{"field":"t","type":"nominal"}}}
 ]},
 {"width":355,"height":113,"layer":[
  {"data":{"values":[{}]},"mark":{"type":"rect","color":"#FFE6E6","clip":true},"encoding":{"x":{"datum":-1000,"type":"quantitative"},"x2":{"datum":1},"y":{"datum":0.001,"type":"quantitative"},"y2":{"datum":10}}},
  {"data":{"values":[{}]},"mark":{"type":"rule","color":"#000","strokeWidth":1.5},"encoding":{"x":{"datum":1,"type":"quantitative"}}},
  {"data":{"values":[{}]},"mark":{"type":"rule","color":"#000","strokeWidth":1.5},"encoding":{"y":{"datum":10,"type":"quantitative"}}},
  {"data":{"name":"oct3"},"mark":{"type":"circle","size":30,"color":"#000","opacity":1},"encoding":{"x":{"field":"x","type":"quantitative","scale":{"domain":[0.51,11.2],"nice":false,"zero":false},"axis":{"title":"Si/N","values":[2.5,5,7.5,10],"format":".1f"}},"y":{"field":"y","type":"quantitative","scale":{"type":"log","domain":[2.12,10.9],"nice":false},"axis":{"title":"Si/P","values":[3,5,10],"format":"d"}}}},
  {"data":{"name":"oct3"},"transform":[{"filter":"isValid(datum.lx)"}],"mark":{"type":"text","fontSize":14,"color":"#000"},"encoding":{"x":{"field":"lx","type":"quantitative"},"y":{"field":"ly","type":"quantitative"},"text":{"field":"t","type":"nominal"}}}
 ]}
],
"config": {
 "view": {"stroke": null},
 "font": "Liberation Sans",
 "axis": {"grid": false, "domainColor": "#000", "domainWidth": 1.5, "tickColor": "#000", "tickWidth": 1.2, "tickSize": 4, "labelColor": "#4D4D4D", "labelFontSize": 14, "labelFont": "Liberation Sans", "titleFont": "Liberation Sans", "titleFontSize": 17, "titleFontWeight": "normal", "titleColor": "#000", "labelFlush": false, "labelOverlap": false},
 "axisX": {"labelPadding": 3, "titlePadding": 3},
 "axisY": {"labelPadding": 2, "titlePadding": 8},
 "title": {"font": "Lato", "fontSize": 38, "fontWeight": "normal", "color": "#000"}
}
}
